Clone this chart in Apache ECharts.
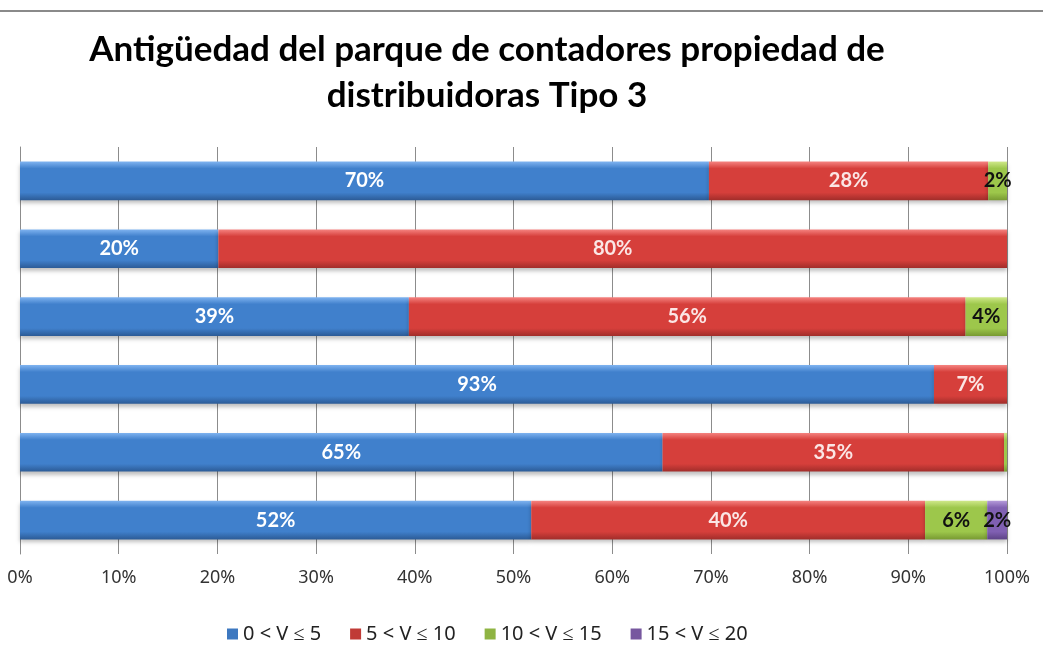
<!DOCTYPE html>
<html>
<head>
<meta charset="utf-8">
<script src="https://cdn.jsdelivr.net/npm/echarts@6/dist/echarts.min.js"></script>
<style>
  html, body { margin: 0; padding: 0; background: #fff; }
  #chart { width: 1043px; height: 657px; }
</style>
</head>
<body>
<div id="chart"></div>
<script>
  // filas del gráfico (sin etiqueta de categoría en el original)
  let categorias = ['A', 'B', 'C', 'D', 'E', 'F'];
  let tramos = ['0 < V ≤ 5', '5 < V ≤ 10', '10 < V ≤ 15', '15 < V ≤ 20'];

  let v0a5 = [69.8, 20.1, 39.4, 92.6, 65.1, 51.8];
  let v5a10 = [28.3, 79.9, 56.4, 7.4, 34.6, 39.9];
  let v10a15 = [1.9, 0, 4.2, 0, 0.3, 6.3];
  let v15a20 = [0, 0, 0, 0, 0, 2.0];

  let ticksX = [0, 10, 20, 30, 40, 50, 60, 70, 80, 90, 100];

  function bevel(light, mid, dark) {
    return new echarts.graphic.LinearGradient(0, 0, 0, 1, [
      {offset: 0, color: light},
      {offset: 0.18, color: mid},
      {offset: 0.8, color: mid},
      {offset: 1, color: dark}
    ]);
  }

  let colores = [
    bevel('#7fb3f0', '#4080cc', '#2c5b96'),
    bevel('#f58380', '#d63f3b', '#a12d2a'),
    bevel('#cfe889', '#9dc74b', '#789a32'),
    bevel('#b49ad9', '#8060b2', '#5d4386')
  ];
  let legendColors = ['#3d78c0', '#c03b37', '#8fb443', '#77589f'];
  let labelColors = ['#ffffff', '#fbe6e5', '#111111', '#111111'];

  let datos = [v0a5, v5a10, v10a15, v15a20];

  let series = datos.map((d, i) => ({
    name: tramos[i],
    type: 'bar',
    stack: 'total',
    barWidth: '57%',
    data: d,
    itemStyle: {
      color: colores[i],
      shadowColor: 'rgba(0,0,0,0.25)',
      shadowBlur: 4,
      shadowOffsetY: 3
    },
    label: {
      show: true,
      position: 'inside',
      color: labelColors[i],
      fontFamily: 'Lato',
      fontWeight: 'bold',
      fontSize: 20,
      formatter: p => p.value < 1 ? '' : Math.round(p.value) + '%'
    }
  }));

  let chart = echarts.init(document.getElementById('chart'));
  chart.setOption({
    animation: false,
    color: legendColors,
    title: {
      text: 'Antigüedad del parque de contadores propiedad de\ndistribuidoras Tipo 3',
      left: 482,
      top: 22,
      textAlign: 'center',
      textStyle: {
        fontFamily: 'Lato',
        fontWeight: 'bold',
        fontSize: 35,
        lineHeight: 46,
        color: '#000'
      }
    },
    graphic: [{
      type: 'line',
      shape: {x1: 0, y1: 11, x2: 1043, y2: 11},
      style: {stroke: '#8a8a8a', lineWidth: 2}
    }],
    legend: {
      left: 222,
      top: 619,
      icon: 'rect',
      itemWidth: 11,
      itemHeight: 11,
      itemGap: 29,
      data: tramos.map((t, i) => ({name: t, itemStyle: {color: legendColors[i]}})),
      textStyle: {fontFamily: 'Noto Sans', fontSize: 20, color: '#222'}
    },
    grid: {left: 20, right: 36, top: 147, bottom: 103},
    xAxis: {
      type: 'value',
      min: 0,
      max: 100,
      interval: 10,
      axisLine: {show: false},
      axisTick: {show: false},
      splitLine: {lineStyle: {color: '#8c8c8c', width: 1}},
      axisLabel: {
        margin: 15,
        fontFamily: 'Noto Sans',
        fontSize: 18,
        color: '#333',
        formatter: v => ticksX.includes(v) ? v + '%' : ''
      }
    },
    yAxis: {
      type: 'category',
      inverse: true,
      data: categorias,
      axisLine: {show: true, lineStyle: {color: '#8c8c8c'}},
      axisTick: {show: false},
      axisLabel: {show: false}
    },
    series: series
  });
</script>
</body>
</html>
